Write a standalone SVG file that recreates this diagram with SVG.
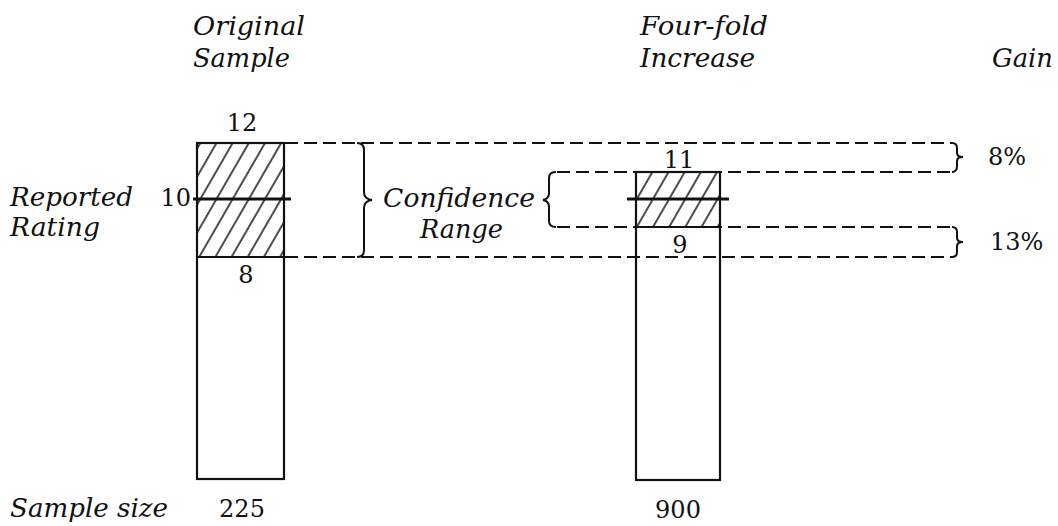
<svg xmlns="http://www.w3.org/2000/svg" width="1058" height="526" viewBox="0 0 1058 526">
<defs>
<pattern id="hatch" patternUnits="userSpaceOnUse" width="14" height="14" patternTransform="rotate(30)">
<line x1="7" y1="0" x2="7" y2="14" stroke="#111" stroke-width="1.5"/>
</pattern>
<style>
.it{font-family:"DejaVu Serif","Liberation Serif",serif;font-style:italic;font-size:26px;fill:#111}
.num{font-family:"DejaVu Serif","Liberation Serif",serif;font-size:24px;fill:#111}
.bar{fill:none;stroke:#111;stroke-width:2.2}
.mid{stroke:#111;stroke-width:3.2}
.dash{fill:none;stroke:#111;stroke-width:1.8;stroke-dasharray:13 6}
.brace{fill:none;stroke:#111;stroke-width:2}
</style>
</defs>
<rect width="1058" height="526" fill="#fff"/>
<g id="headers">
<text class="it" x="193" y="35" textLength="112" lengthAdjust="spacingAndGlyphs">Original</text>
<text class="it" x="193" y="67" textLength="97" lengthAdjust="spacingAndGlyphs">Sample</text>
<text class="it" x="640" y="35" textLength="128" lengthAdjust="spacingAndGlyphs">Four-fold</text>
<text class="it" x="640" y="67" textLength="115" lengthAdjust="spacingAndGlyphs">Increase</text>
<text class="it" x="992" y="67" textLength="61" lengthAdjust="spacingAndGlyphs">Gain</text>
<text class="it" x="10" y="206" textLength="123" lengthAdjust="spacingAndGlyphs">Reported</text>
<text class="it" x="10" y="236" textLength="90" lengthAdjust="spacingAndGlyphs">Rating</text>
<text class="it" x="10" y="517" textLength="158" lengthAdjust="spacingAndGlyphs">Sample size</text>
</g>
<g id="original-bar">
<rect x="197" y="143" width="87" height="114" fill="url(#hatch)"/>
<rect class="bar" x="197" y="143" width="87" height="336"/>
<line class="bar" x1="197" y1="257" x2="284" y2="257"/>
<line class="mid" x1="193" y1="199" x2="291" y2="199"/>
<text class="num" x="242" y="131" text-anchor="middle">12</text>
<text class="num" x="191" y="206" text-anchor="end">10</text>
<text class="num" x="246" y="283" text-anchor="middle">8</text>
<text class="num" x="242" y="517" text-anchor="middle">225</text>
</g>
<g id="fourfold-bar">
<rect x="636" y="172" width="84" height="55" fill="url(#hatch)"/>
<rect class="bar" x="636" y="172" width="84" height="308"/>
<line class="bar" x1="636" y1="227" x2="720" y2="227"/>
<line class="mid" x1="627" y1="199" x2="729" y2="199"/>
<text class="num" x="679" y="168" text-anchor="middle">11</text>
<text class="num" x="680" y="253" text-anchor="middle">9</text>
<text class="num" x="678" y="518" text-anchor="middle">900</text>
</g>
<g id="connectors">
<line class="dash" x1="285" y1="143" x2="952" y2="143"/>
<line class="dash" x1="285" y1="257" x2="952" y2="257"/>
<line class="dash" x1="557" y1="172" x2="952" y2="172"/>
<line class="dash" x1="557" y1="227" x2="952" y2="227"/>
<path class="brace" d="M357,143 Q364,143 364,150 L364,192 Q364,199 372,200 Q364,201 364,208 L364,250 Q364,257 357,257"/>
<path class="brace" d="M556,172 Q549,172 549,178 L549,193 Q549,199 543,200 Q549,201 549,207 L549,221 Q549,227 556,227"/>
<path class="brace" d="M952,143 Q957,143 957,148 L957,153 Q957,157 963,157 Q957,157 957,161 L957,166 Q957,172 952,172"/>
<path class="brace" d="M952,227 Q957,227 957,232 L957,238 Q957,242 963,242 Q957,242 957,246 L957,252 Q957,257 952,257"/>
</g>
<g id="labels">
<text class="it" x="383" y="207" textLength="152" lengthAdjust="spacingAndGlyphs">Confidence</text>
<text class="it" x="420" y="238" textLength="83" lengthAdjust="spacingAndGlyphs">Range</text>
<text class="num" x="988" y="165">8%</text>
<text class="num" x="990" y="250">13%</text>
</g>
</svg>
